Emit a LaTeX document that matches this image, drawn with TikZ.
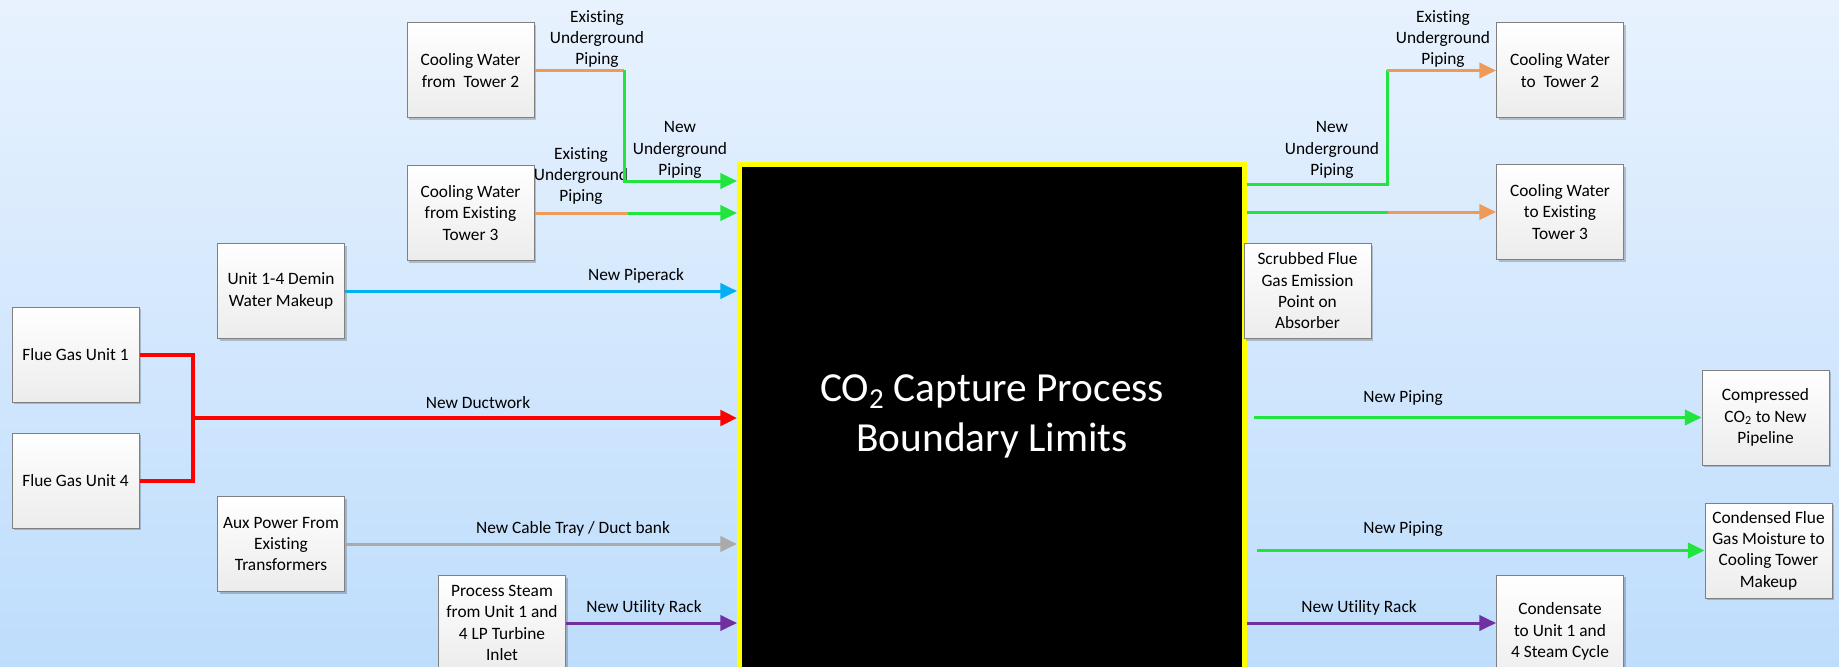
\documentclass[tikz,border=0pt]{standalone}
\usepackage{fontspec}
\setmainfont[Ligatures=NoCommon]{Carlito}
\usetikzlibrary{arrows.meta,shadows,calc}
\definecolor{bgtop}{RGB}{232,242,254}
\definecolor{bgbot}{RGB}{190,221,252}
\definecolor{boxline}{RGB}{128,128,128}
\definecolor{boxbot}{RGB}{236,236,236}
\definecolor{cgreen}{RGB}{34,228,62}
\definecolor{corange}{RGB}{238,155,90}
\definecolor{cblue}{RGB}{0,176,240}
\definecolor{cgray}{RGB}{170,170,170}
\definecolor{cpurple}{RGB}{112,48,160}
\definecolor{cred}{RGB}{255,0,0}
\definecolor{cyel}{RGB}{255,255,0}
\begin{document}
\begin{tikzpicture}[x=0.75pt,y=-0.75pt,
  box/.style={draw=boxline, line width=0.75pt, top color=white, bottom color=boxbot,
    minimum width=95.25pt, minimum height=71.25pt, align=center, inner sep=2pt,
    font=\fontsize{13}{16}\selectfont,
    drop shadow={shadow xshift=1.5pt,shadow yshift=-1.5pt,opacity=0.2,fill=black}},
  lbl/.style={align=center, font=\fontsize{13}{16}\selectfont, inner sep=0pt},
  pipe/.style={line width=2.25pt},
  redpipe/.style={line width=3pt, cred},
  arr/.style={-{Triangle[length=12.5pt,width=11.5pt]}},
]
\useasboundingbox (0,0) rectangle (1839,667);
\shade[top color=bgtop, bottom color=bgbot] (0,0) rectangle (1839,667);

% main boundary box
\node (cap) [draw=cyel, fill=black, line width=3.75pt, minimum width=378.75pt,
  minimum height=416.6pt, inner sep=0pt] at (992,442.25) {};
\node (title) [text=white, align=center, font=\fontsize{31}{37.5}\selectfont]
  at (992,416) {CO\textsubscript{2} Capture Process\\Boundary Limits};

% connector labels
\node[lbl] (l1) at (597,39) {Existing\\Underground\\Piping};
\node[lbl] (l2) at (680,150) {New\\Underground\\Piping};
\node[lbl] (l3) at (581,176) {Existing\\Underground\\Piping};
\node[lbl] (l4) at (636,276) {New Piperack};
\node[lbl] (l5) at (478,403) {New Ductwork};
\node[lbl] (l6) at (573,529) {New Cable Tray / Duct bank};
\node[lbl] (l7) at (644,608) {New Utility Rack};
\node[lbl] (l8) at (1443,39) {Existing\\Underground\\Piping};
\node[lbl] (l9) at (1332,150) {New\\Underground\\Piping};
\node[lbl] (l10) at (1403,398) {New Piping};
\node[lbl] (l11) at (1403,529) {New Piping};
\node[lbl] (l12) at (1359,608) {New Utility Rack};

% boxes
\node[box] (cw2f) at (470.5,70.5) {Cooling Water\\from~~Tower 2};
\node[box] (cw3f) at (470.5,213) {Cooling Water\\from Existing\\Tower 3};
\node[box] (demin) at (281,291) {Unit 1-4 Demin\\Water Makeup};
\node[box] (fg1) at (75.5,354.5) {Flue Gas Unit 1};
\node[box] (fg4) at (75.5,480.5) {Flue Gas Unit 4};
\node[box] (aux) at (281,544) {Aux Power From\\Existing\\Transformers};
\node[box] (steam) at (502,623) {Process Steam\\from Unit 1 and\\4 LP Turbine\\Inlet};
\node[box] (cw2t) at (1560,70.5) {Cooling Water\\to~~Tower 2};
\node[box] (cw3t) at (1560,212) {Cooling Water\\to Existing\\Tower 3};
\node[box] (scrub) at (1307.5,291) {Scrubbed Flue\\Gas Emission\\Point on\\Absorber};
\node[box] (co2) at (1765.5,417.5) {Compressed\\CO\textsubscript{2} to New\\Pipeline};
\node[box] (cfg) at (1768.5,550.5) {Condensed Flue\\Gas Moisture to\\Cooling Tower\\Makeup};
\node[box, minimum height=84.75pt] (cond) at (1560,631.5) {Condensate\\to Unit 1 and\\4 Steam Cycle};

% junction coordinates
\coordinate (j1) at (624,70.5);
\coordinate (j1b) at (624,181);
\coordinate (j2) at (628,213);
\coordinate (jr) at (192.5,418);
\coordinate (r1) at (1387,184);
\coordinate (r2) at (1388,212);

% left side connectors
\draw[pipe,corange] (cw2f.east) -- (j1);
\draw[pipe,cgreen,arr] (j1) -- (j1b) -- (cap.west |- j1b);
\draw[pipe,corange] (cw3f.east) -- (j2);
\draw[pipe,cgreen,arr] (j2) -- (cap.west |- j2);
\draw[pipe,cblue,arr] (demin.east) -- (cap.west |- demin.east);
\draw[redpipe] (fg1.east) -| (jr);
\draw[redpipe] (fg4.east) -| (jr);
\draw[redpipe,arr] (jr) -- (cap.west |- jr);
\draw[pipe,cgray,arr] (aux.east) -- (cap.west |- aux.east);
\draw[pipe,cpurple,arr] (steam.east) -- (cap.west |- steam.east);

% right side connectors
\draw[pipe,cgreen] (cap.east |- r1) -- (r1) -- (r1 |- cw2t.west);
\draw[pipe,corange,arr] (r1 |- cw2t.west) -- (cw2t.west);
\draw[pipe,cgreen] (cap.east |- r2) -- (r2);
\draw[pipe,corange,arr] (r2) -- (cw3t.west);
\draw[pipe,cgreen,arr] ($(cap.east |- co2.west)+(7,0)$) -- (co2.west);
\draw[pipe,cgreen,arr] ($(cap.east |- cfg.west)+(10,0)$) -- (cfg.west);
\draw[pipe,cpurple,arr] (cap.east |- steam.east) -- (cond.west |- steam.east);
\end{tikzpicture}
\end{document}
